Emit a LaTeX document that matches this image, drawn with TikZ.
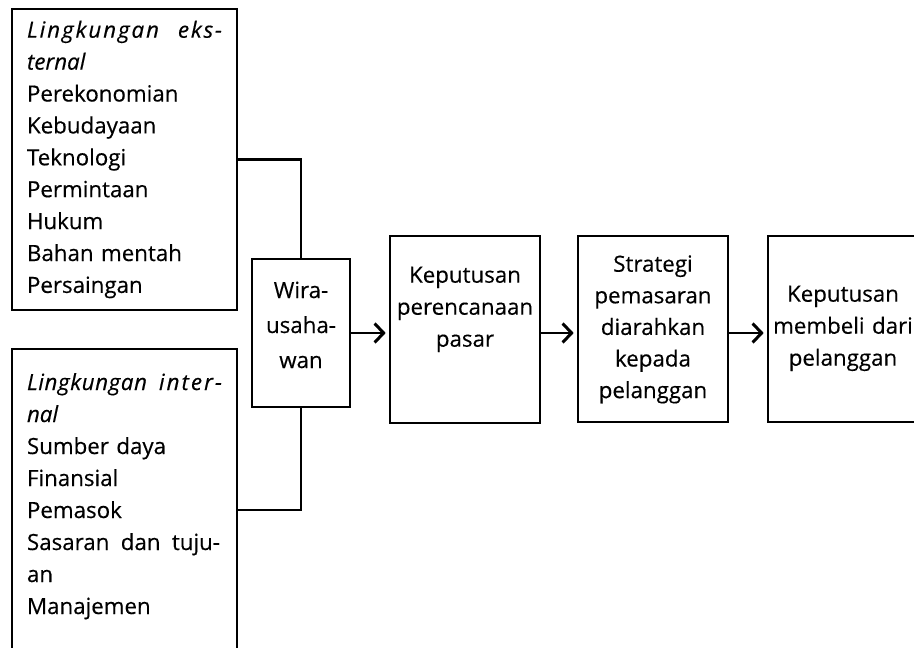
\documentclass[tikz,border=0pt]{standalone}
\usepackage{fontspec}
\setmainfont{Open Sans}[FakeBold=0.4]
\usetikzlibrary{arrows.meta}
% a line of fixed width, started as a paragraph line
\newcommand\fullline[2]{\leavevmode\hbox to #1{#2}}
% a word spread letter by letter over a fixed width
\def\spreadA#1{#1\spreadB}
\def\spreadB#1{\ifx#1\relax\else\hfil#1\expandafter\spreadB\fi}
\newcommand\spreadword[2]{\hbox to #1{\spreadA #2\relax}}
\begin{document}
\begin{tikzpicture}[x=1pt,y=-1pt,
  box/.style={draw, rectangle, line width=2.7pt, inner sep=0pt, outer sep=0pt,
    anchor=north west, font=\fontsize{22.3pt}{32pt}\selectfont},
  link/.style={line width=2.4pt},
  flow/.style={line width=2.4pt,
    -{Straight Barb[length=9pt,width=19pt,line width=3pt]}, shorten >=4.3pt}]
\useasboundingbox (0,0) rectangle (914,648);
\clip (0,0) rectangle (914,648);

% factor boxes on the left
\node[box, text width=195pt, inner xsep=15pt, align=left,
      text height=28.7pt, text depth=272.3pt,
      font=\fontsize{22.3pt}{31.9pt}\selectfont] (ext) at (12,9)
  {\fullline{195pt}{\itshape\spreadword{132pt}{Lingkungan}\hfill\spreadword{44pt}{eks-}}\\
   \textit{ternal}\\
   Perekonomian\\
   Kebudayaan\\
   Teknologi\\
   Permintaan\\
   Hukum\\
   Bahan mentah\\
   Persaingan};

\node[box, text width=195pt, inner xsep=15pt, align=left,
      text height=41pt, text depth=281pt] (int) at (12,349)
  {\fullline{195pt}{\itshape\spreadword{120pt}{Lingkungan}\hfill\spreadword{63pt}{inter-}}\\
   \textit{nal}\\
   Sumber daya\\
   Finansial\\
   Pemasok\\
   \fullline{193pt}{Sasaran\hfill dan\hfill tuju-}\\
   an\\
   Manajemen};

% process chain
\node[box, text width=98pt, align=center, text height=39pt, text depth=109pt,
      font=\fontsize{22.3pt}{35pt}\selectfont] (wira) at (252,259)
  {Wira-\\ usaha-\\ wan};

\node[box, text width=150pt, align=center, text height=46.7pt, text depth=140.3pt] (kpp) at (390,236)
  {Keputusan\\ perencanaan\\ pasar};

\node[box, text width=150pt, align=center, text height=35.7pt, text depth=150.3pt,
      font=\fontsize{22.3pt}{31.6pt}\selectfont] (strat) at (578,236)
  {Strategi\\ pemasaran\\ diarahkan\\ kepada\\ pelanggan};

\node[box, text width=150pt, align=center, text height=65.7pt, text depth=120.3pt] (beli) at (768,236)
  {Keputusan\\ membeli dari\\ pelanggan};

% connectors
\draw[link] (ext.east) -| (wira.north);
\draw[link] (int.east) -| (wira.south);
\draw[flow] (wira.east) -- (kpp.west |- wira.east);
\draw[flow] (kpp.east |- wira.east) -- (strat.west |- wira.east);
\draw[flow] (strat.east |- wira.east) -- (beli.west |- wira.east);
\end{tikzpicture}
\end{document}
